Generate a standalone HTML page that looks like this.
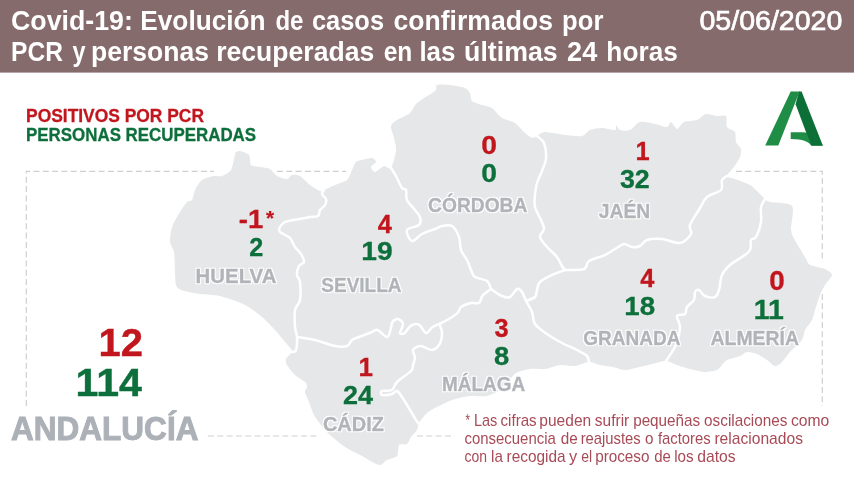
<!DOCTYPE html><html lang="es"><head><meta charset="utf-8"><title>Covid-19 Andalucía</title>
<style>html,body{margin:0;padding:0;background:#fff}body{width:854px;height:480px;overflow:hidden}svg{display:block}text{font-family:"Liberation Sans",sans-serif}</style></head><body>
<svg width="854" height="480" viewBox="0 0 854 480">
<defs><filter id="ol" x="-5%" y="-30%" width="110%" height="160%"><feMorphology in="SourceAlpha" operator="dilate" radius="1.1" result="d"/><feGaussianBlur in="d" stdDeviation="0.35" result="b"/><feFlood flood-color="#fff"/><feComposite in2="b" operator="in" result="o"/><feMerge><feMergeNode in="o"/><feMergeNode in="SourceGraphic"/></feMerge></filter></defs>
<rect width="854" height="480" fill="#fff"/>
<g stroke="#cfcfcf" stroke-width="1.2" stroke-dasharray="6 3.3" fill="none"><path d="M26.3 406V171.4H214"/><path d="M277 171.4H346"/><path d="M736 171.4H822.3V262"/><path d="M822.3 294V406"/><path d="M208 436H319"/><path d="M417 436H452"/></g>
<path d="M176.0 285.0C175.2 282.6 175.3 276.4 175.0 272.0C174.7 267.6 174.7 256.0 174.0 252.0C173.3 248.0 170.3 245.3 170.0 242.0C169.7 238.7 171.1 230.3 172.0 227.0C172.9 223.7 175.9 219.0 177.0 217.0C178.1 215.0 178.7 214.0 180.0 212.0C181.3 210.0 185.4 203.6 187.0 202.0C188.6 200.4 190.9 201.6 192.0 200.0C193.1 198.4 193.7 192.7 195.0 190.0C196.3 187.3 199.5 181.9 202.0 180.0C204.5 178.1 211.3 176.5 214.0 176.0C216.7 175.5 219.7 176.8 222.0 176.0C224.3 175.2 229.3 172.8 231.0 170.0C232.7 167.2 234.3 157.4 235.0 155.0C235.7 152.6 235.3 152.5 236.0 152.0C236.7 151.5 238.3 150.6 240.0 151.0C241.7 151.4 247.5 153.1 249.0 155.0C250.5 156.9 249.5 163.4 251.0 165.0C252.5 166.6 257.5 166.5 260.0 167.0C262.5 167.5 267.7 167.8 270.0 169.0C272.3 170.2 274.7 174.7 277.0 176.0C279.3 177.3 285.0 179.1 287.0 179.0C289.0 178.9 290.3 175.4 292.0 175.0C293.7 174.6 297.6 174.7 300.0 176.0C302.4 177.3 307.3 183.0 310.0 185.0C312.7 187.0 318.1 190.3 320.0 191.0C321.9 191.7 322.0 190.8 324.0 190.0C326.0 189.2 331.9 186.3 335.0 185.0C338.1 183.7 344.7 182.0 347.0 180.0C349.3 178.0 350.8 172.4 352.0 170.0C353.2 167.6 354.7 163.3 356.0 162.0C357.3 160.7 359.9 160.5 362.0 160.0C364.1 159.5 370.1 157.7 372.0 158.0C373.9 158.3 376.1 160.8 376.0 162.0C375.9 163.2 371.1 165.7 371.0 167.0C370.9 168.3 373.3 172.1 375.0 172.0C376.7 171.9 381.9 166.5 384.0 166.0C386.1 165.5 389.4 170.0 391.0 168.0C392.6 166.0 395.6 155.0 396.0 151.0C396.4 147.0 394.7 141.3 394.0 138.0C393.3 134.7 390.6 128.4 391.0 126.0C391.4 123.6 394.5 121.7 397.0 120.0C399.5 118.3 407.3 115.3 410.0 113.0C412.7 110.7 413.7 105.9 417.0 103.0C420.3 100.1 432.3 93.4 435.0 91.0C437.7 88.6 435.0 85.8 437.0 85.0C439.0 84.2 446.3 84.6 450.0 85.0C453.7 85.4 462.3 86.9 465.0 88.0C467.7 89.1 469.1 91.3 470.0 93.0C470.9 94.7 470.4 99.4 472.0 101.0C473.6 102.6 479.3 104.1 482.0 105.0C484.7 105.9 489.3 106.3 492.0 108.0C494.7 109.7 498.9 116.0 502.0 118.0C505.1 120.0 511.9 121.0 515.0 123.0C518.1 125.0 522.7 131.0 525.0 133.0C527.3 135.0 530.4 137.6 532.0 138.0C533.6 138.4 535.3 136.8 537.0 136.0C538.7 135.2 541.3 132.1 545.0 132.0C548.7 131.9 560.1 134.5 565.0 135.0C569.9 135.5 578.7 136.7 582.0 136.0C585.3 135.3 587.3 131.1 590.0 130.0C592.7 128.9 598.7 128.0 602.0 128.0C605.3 128.0 613.1 130.4 615.0 130.0C616.9 129.6 615.3 125.0 616.0 125.0C616.7 125.0 618.1 129.3 620.0 130.0C621.9 130.7 627.3 131.1 630.0 130.0C632.7 128.9 636.7 122.8 640.0 122.0C643.3 121.2 651.4 123.3 655.0 124.0C658.6 124.7 664.9 127.3 667.0 127.0C669.1 126.7 669.7 121.7 671.0 122.0C672.3 122.3 675.3 129.0 677.0 129.0C678.7 129.0 681.3 123.2 684.0 122.0C686.7 120.8 694.1 121.1 697.0 120.0C699.9 118.9 703.3 114.5 706.0 114.0C708.7 113.5 714.3 115.7 717.0 116.0C719.7 116.3 724.7 114.5 726.0 116.0C727.3 117.5 725.8 124.9 727.0 127.0C728.2 129.1 733.8 130.0 735.0 132.0C736.2 134.0 735.2 139.7 736.0 142.0C736.8 144.3 740.5 147.0 741.0 149.0C741.5 151.0 740.9 154.6 740.0 157.0C739.1 159.4 735.7 164.5 734.0 167.0C732.3 169.5 726.9 174.4 727.0 176.0C727.1 177.6 731.9 177.8 735.0 179.0C738.1 180.2 747.1 183.4 750.0 185.0C752.9 186.6 755.0 189.1 757.0 191.0C759.0 192.9 763.3 197.5 765.0 199.0C766.7 200.5 766.4 201.1 770.0 202.0C773.6 202.9 789.2 202.3 792.0 206.0C794.8 209.7 790.5 225.2 791.0 230.0C791.5 234.8 794.1 238.4 796.0 242.0C797.9 245.6 803.1 253.9 805.0 257.0C806.9 260.1 807.3 263.4 810.0 265.0C812.7 266.6 822.1 267.7 825.0 269.0C827.9 270.3 832.0 272.9 832.0 275.0C832.0 277.1 826.6 282.3 825.0 285.0C823.4 287.7 821.3 291.7 820.0 295.0C818.7 298.3 816.1 306.7 815.0 310.0C813.9 313.3 813.3 317.3 812.0 320.0C810.7 322.7 806.3 327.3 805.0 330.0C803.7 332.7 804.0 337.1 802.0 340.0C800.0 342.9 792.7 349.1 790.0 352.0C787.3 354.9 784.0 360.1 782.0 362.0C780.0 363.9 777.0 366.3 775.0 366.0C773.0 365.7 769.4 361.6 767.0 360.0C764.6 358.4 759.7 355.1 757.0 354.0C754.3 352.9 749.3 351.7 747.0 352.0C744.7 352.3 742.7 354.9 740.0 356.0C737.3 357.1 729.4 358.8 727.0 360.0C724.6 361.2 723.3 363.7 722.0 365.0C720.7 366.3 719.3 369.1 717.0 370.0C714.7 370.9 708.6 372.1 705.0 372.0C701.4 371.9 693.7 369.9 690.0 369.0C686.3 368.1 680.2 366.1 677.0 365.0C673.8 363.9 669.3 361.1 666.0 361.0C662.7 360.9 655.5 363.2 652.0 364.0C648.5 364.8 643.6 366.2 640.0 367.0C636.4 367.8 628.6 370.0 625.0 370.0C621.4 370.0 616.3 367.7 613.0 367.0C609.7 366.3 603.2 365.7 600.0 365.0C596.8 364.3 592.3 361.9 589.0 362.0C585.7 362.1 578.9 365.6 575.0 366.0C571.1 366.4 564.0 364.6 560.0 365.0C556.0 365.4 549.0 368.5 545.0 369.0C541.0 369.5 533.7 368.5 530.0 369.0C526.3 369.5 519.7 371.2 517.0 372.5C514.3 373.8 512.3 376.7 510.0 379.0C507.7 381.3 503.1 387.7 500.0 390.0C496.9 392.3 491.0 395.2 487.0 396.0C483.0 396.8 474.7 395.5 470.0 396.0C465.3 396.5 456.4 398.5 452.0 400.0C447.6 401.5 440.3 405.3 437.0 407.0C433.7 408.7 429.4 410.9 427.0 413.0C424.6 415.1 420.3 420.7 419.0 423.0C417.7 425.3 418.1 428.1 417.0 430.0C415.9 431.9 412.3 435.1 411.0 437.0C409.7 438.9 408.6 442.9 407.0 444.0C405.4 445.1 400.3 443.4 399.0 445.0C397.7 446.6 398.6 454.0 397.0 456.0C395.4 458.0 389.4 458.8 387.0 460.0C384.6 461.2 382.3 465.5 379.0 465.0C375.7 464.5 366.5 458.4 362.0 456.0C357.5 453.6 349.3 449.8 345.0 447.0C340.7 444.2 333.2 437.9 330.0 435.0C326.8 432.1 323.1 427.7 321.0 425.0C318.9 422.3 315.6 418.1 314.0 415.0C312.4 411.9 310.2 405.1 309.0 402.0C307.8 398.9 305.3 394.0 305.0 392.0C304.7 390.0 307.0 388.3 307.0 387.0C307.0 385.7 306.6 383.6 305.0 382.0C303.4 380.4 297.4 377.3 295.0 375.0C292.6 372.7 288.2 367.1 287.0 365.0C285.8 362.9 285.3 360.9 286.0 359.0C286.7 357.1 292.1 353.3 292.0 351.0C291.9 348.7 287.3 344.8 285.0 342.0C282.7 339.2 278.1 333.3 275.0 330.0C271.9 326.7 266.0 320.3 262.0 317.0C258.0 313.7 250.6 307.8 245.0 305.0C239.4 302.2 226.0 297.5 220.0 296.0C214.0 294.5 205.2 294.8 200.0 294.0C194.8 293.2 184.2 291.2 181.0 290.0C177.8 288.8 176.8 287.4 176.0 285.0Z" fill="#e6e7e8"/>
<g fill="none" stroke="#fff" stroke-width="2.5" stroke-linejoin="round" stroke-linecap="round">
<path d="M324.0 190.0C323.7 190.7 321.7 192.5 322.0 194.0C322.3 195.5 325.5 197.2 326.0 199.0C326.5 200.8 326.0 203.2 325.0 205.0C324.0 206.8 321.2 208.2 320.0 210.0C318.8 211.8 319.7 214.8 318.0 216.0C316.3 217.2 313.0 216.5 310.0 217.0C307.0 217.5 304.2 218.2 300.0 219.0C295.8 219.8 288.5 220.2 285.0 222.0C281.5 223.8 279.0 227.8 279.0 230.0C279.0 232.2 283.2 233.7 285.0 235.0C286.8 236.3 288.3 236.0 290.0 238.0C291.7 240.0 293.2 244.3 295.0 247.0C296.8 249.7 299.5 251.5 301.0 254.0C302.5 256.5 304.3 260.0 304.0 262.0C303.7 264.0 300.2 263.8 299.0 266.0C297.8 268.2 296.8 272.3 297.0 275.0C297.2 277.7 299.5 277.8 300.0 282.0C300.5 286.2 300.8 295.3 300.0 300.0C299.2 304.7 295.8 305.5 295.0 310.0C294.2 314.5 294.7 322.5 295.0 327.0C295.3 331.5 296.8 333.2 297.0 337.0C297.2 340.8 296.8 347.5 296.0 350.0C295.2 352.5 292.7 351.7 292.0 352.0"/>
<path d="M297.0 337.0C300.0 337.5 308.7 338.5 315.0 340.0C321.3 341.5 329.7 345.0 335.0 346.0C340.3 347.0 344.2 347.0 347.0 346.0C349.8 345.0 350.0 341.5 352.0 340.0C354.0 338.5 355.7 338.3 359.0 337.0C362.3 335.7 368.9 333.2 372.0 332.0C375.1 330.8 375.0 329.2 377.5 330.0C380.0 330.8 384.8 337.1 387.0 337.0C389.2 336.9 389.7 331.9 390.6 329.4C391.5 326.9 391.3 323.7 392.5 322.0C393.7 320.3 396.2 318.7 398.0 319.0C399.8 319.3 402.7 321.7 403.0 324.0C403.3 326.3 399.7 331.5 400.0 333.0C400.3 334.5 402.9 334.2 404.7 333.0C406.5 331.8 408.6 327.0 411.0 325.6C413.4 324.2 416.5 323.5 419.0 324.7C421.5 325.9 423.8 332.5 426.0 333.0C428.2 333.5 429.8 329.0 432.0 327.5C434.2 326.0 438.2 324.4 439.4 323.8"/>
<path d="M439.4 324.0C441.3 323.0 447.6 319.9 450.7 318.0C453.8 316.1 456.3 314.3 458.0 312.5C459.7 310.7 458.8 308.6 461.0 307.0C463.2 305.4 468.0 303.7 471.0 303.0C474.0 302.3 477.1 304.2 479.0 303.0C480.9 301.8 480.6 297.9 482.6 295.6C484.6 293.3 489.6 290.1 491.0 289.0"/>
<path d="M439.4 324.0C439.8 325.5 442.0 329.6 442.0 333.0C442.0 336.4 441.1 341.6 439.4 344.4C437.7 347.2 435.1 349.7 432.0 350.0C428.9 350.3 423.9 346.0 420.7 346.0C417.5 346.0 413.9 348.1 413.0 350.0C412.1 351.9 415.0 355.0 415.0 357.5C415.0 360.0 413.7 362.8 413.0 365.0C412.3 367.2 413.7 368.2 411.0 371.0C408.3 373.8 400.2 378.8 397.0 382.0C393.8 385.2 394.5 388.5 392.0 390.0C389.5 391.5 383.7 390.2 382.0 391.0C380.3 391.8 380.3 394.5 382.0 395.0C383.7 395.5 389.5 394.7 392.0 394.0C394.5 393.3 395.3 390.5 397.0 391.0C398.7 391.5 399.8 393.8 402.0 397.0C404.2 400.2 407.7 406.2 410.0 410.0C412.3 413.8 414.5 417.7 416.0 420.0C417.5 422.3 418.5 423.3 419.0 424.0"/>
<path d="M391.0 168.0C391.8 169.3 394.2 172.7 396.0 176.0C397.8 179.3 400.3 185.7 402.0 188.0C403.7 190.3 405.2 188.0 406.0 190.0C406.8 192.0 405.5 196.7 407.0 200.0C408.5 203.3 412.8 207.2 415.0 210.0C417.2 212.8 419.3 214.5 420.0 217.0C420.7 219.5 421.2 222.8 419.0 225.0C416.8 227.2 408.2 227.3 407.0 230.0C405.8 232.7 409.5 240.3 412.0 241.0C414.5 241.7 418.2 236.0 422.0 234.0C425.8 232.0 431.7 230.3 435.0 229.0C438.3 227.7 439.2 226.5 442.0 226.0C444.8 225.5 449.2 224.2 452.0 226.0C454.8 227.8 457.5 233.0 459.0 237.0C460.5 241.0 459.7 246.2 461.0 250.0C462.3 253.8 465.3 256.7 467.0 260.0C468.7 263.3 469.7 267.2 471.0 270.0C472.3 272.8 472.3 275.2 475.0 277.0C477.7 278.8 484.3 279.0 487.0 281.0C489.7 283.0 490.3 287.7 491.0 289.0"/>
<path d="M491.0 289.0C492.8 290.2 498.8 294.7 502.0 296.0C505.2 297.3 507.5 298.2 510.0 297.0C512.5 295.8 515.0 289.8 517.0 289.0C519.0 288.2 520.5 290.0 522.0 292.0C523.5 294.0 525.3 299.5 526.0 301.0"/>
<path d="M526.0 301.0C527.5 300.3 533.2 298.8 535.0 297.0C536.8 295.2 536.2 292.5 537.0 290.0C537.8 287.5 537.5 284.5 540.0 282.0C542.5 279.5 547.8 277.0 552.0 275.0C556.2 273.0 562.8 270.8 565.0 270.0"/>
<path d="M526.0 301.0C527.0 302.8 530.5 308.2 532.0 312.0C533.5 315.8 532.5 320.3 535.0 324.0C537.5 327.7 542.8 331.0 547.0 334.0C551.2 337.0 555.0 339.3 560.0 342.0C565.0 344.7 572.5 347.7 577.0 350.0C581.5 352.3 585.0 354.0 587.0 356.0C589.0 358.0 588.7 361.0 589.0 362.0"/>
<path d="M537.0 136.0C538.2 137.2 542.5 139.3 544.0 143.0C545.5 146.7 546.3 153.3 546.0 158.0C545.7 162.7 543.5 166.8 542.0 171.0C540.5 175.2 538.2 179.0 537.0 183.0C535.8 187.0 535.3 191.0 535.0 195.0C534.7 199.0 534.0 202.8 535.0 207.0C536.0 211.2 539.5 216.3 541.0 220.0C542.5 223.7 544.2 226.2 544.0 229.0C543.8 231.8 539.5 234.0 540.0 237.0C540.5 240.0 544.2 243.7 547.0 247.0C549.8 250.3 554.5 253.8 557.0 257.0C559.5 260.2 560.7 263.8 562.0 266.0C563.3 268.2 564.5 269.3 565.0 270.0"/>
<path d="M565.0 270.0C568.2 269.8 580.0 270.5 584.0 269.0C588.0 267.5 585.5 263.3 589.0 261.0C592.5 258.7 600.7 257.0 605.0 255.0C609.3 253.0 611.8 250.8 615.0 249.0C618.2 247.2 621.2 244.3 624.0 244.0C626.8 243.7 629.3 246.7 632.0 247.0C634.7 247.3 637.5 247.2 640.0 246.0C642.5 244.8 643.3 241.2 647.0 240.0C650.7 238.8 656.5 238.5 662.0 239.0C667.5 239.5 675.2 243.8 680.0 243.0C684.8 242.2 689.3 237.0 691.0 234.0C692.7 231.0 688.5 229.3 690.0 225.0C691.5 220.7 697.2 212.7 700.0 208.0C702.8 203.3 703.5 200.0 707.0 197.0C710.5 194.0 718.5 192.8 721.0 190.0C723.5 187.2 721.0 182.3 722.0 180.0C723.0 177.7 726.2 176.7 727.0 176.0"/>
<path d="M765.0 199.0C764.3 200.3 761.7 203.2 761.0 207.0C760.3 210.8 761.8 217.0 761.0 222.0C760.2 227.0 757.7 234.0 756.0 237.0C754.3 240.0 752.0 237.8 751.0 240.0C750.0 242.2 751.5 247.2 750.0 250.0C748.5 252.8 745.3 254.5 742.0 257.0C738.7 259.5 733.3 262.0 730.0 265.0C726.7 268.0 723.8 270.8 722.0 275.0C720.2 279.2 720.2 286.3 719.0 290.0C717.8 293.7 717.3 296.0 715.0 297.0C712.7 298.0 707.7 297.2 705.0 296.0C702.3 294.8 700.7 290.7 699.0 290.0C697.3 289.3 695.8 290.3 695.0 292.0C694.2 293.7 695.3 297.5 694.0 300.0C692.7 302.5 688.5 304.7 687.0 307.0C685.5 309.3 686.7 312.5 685.0 314.0C683.3 315.5 677.8 313.8 677.0 316.0C676.2 318.2 680.0 322.7 680.0 327.0C680.0 331.3 678.3 337.8 677.0 342.0C675.7 346.2 673.8 348.8 672.0 352.0C670.2 355.2 667.0 359.5 666.0 361.0"/>
</g>
<rect x="0" y="0" width="854" height="72.6" fill="#866b6c"/>
<text y="29.6" font-size="27.8" font-weight="bold" fill="#fff"><tspan x="10.96" textLength="121.96" lengthAdjust="spacingAndGlyphs">Covid-19:</tspan> <tspan x="140.26" textLength="125.41" lengthAdjust="spacingAndGlyphs">Evolución</tspan> <tspan x="275.45" textLength="28.05" lengthAdjust="spacingAndGlyphs">de</tspan> <tspan x="311.91" textLength="72.13" lengthAdjust="spacingAndGlyphs">casos</tspan> <tspan x="393.47" textLength="159.51" lengthAdjust="spacingAndGlyphs">confirmados</tspan> <tspan x="562.10" textLength="41.26" lengthAdjust="spacingAndGlyphs">por</tspan></text>
<text y="61" font-size="27.8" font-weight="bold" fill="#fff"><tspan x="11.07" textLength="51.80" lengthAdjust="spacingAndGlyphs">PCR</tspan> <tspan x="72.50" textLength="13.05" lengthAdjust="spacingAndGlyphs">y</tspan> <tspan x="91.04" textLength="118.04" lengthAdjust="spacingAndGlyphs">personas</tspan> <tspan x="216.14" textLength="158.14" lengthAdjust="spacingAndGlyphs">recuperadas</tspan> <tspan x="383.63" textLength="28.65" lengthAdjust="spacingAndGlyphs">en</tspan> <tspan x="419.38" textLength="36.07" lengthAdjust="spacingAndGlyphs">las</tspan> <tspan x="464.05" textLength="93.64" lengthAdjust="spacingAndGlyphs">últimas</tspan> <tspan x="567.05" textLength="30.18" lengthAdjust="spacingAndGlyphs">24</tspan> <tspan x="606.36" textLength="71.51" lengthAdjust="spacingAndGlyphs">horas</tspan></text>
<text y="29.7" font-size="27.6" font-weight="normal" fill="#fff" stroke="#fff" stroke-width="0.7"><tspan x="699.46" textLength="142.90" lengthAdjust="spacingAndGlyphs">05/06/2020</tspan></text>
<text y="121.7" font-size="19" font-weight="bold" fill="#c1161d" stroke="#c1161d" stroke-width="0.3"><tspan x="26.06" textLength="177.92" lengthAdjust="spacingAndGlyphs">POSITIVOS POR PCR</tspan></text>
<text y="141" font-size="19" font-weight="bold" fill="#0d6f3b" stroke="#0d6f3b" stroke-width="0.3"><tspan x="26.09" textLength="230.00" lengthAdjust="spacingAndGlyphs">PERSONAS RECUPERADAS</tspan></text>
<g><clipPath id="lc"><polygon points="795.8,103.9 813.3,150.5 830,150.5 830,88 798,88"/></clipPath><polygon points="799,91.5 801.6,91.5 822.8,145.4 811.1,145.4 795.6,104.2" fill="#0b6f37"/><polygon points="790.7,91.5 799.6,91.5 778.3,145.4 765.2,145.4" fill="#1f8d46"/><path d="M790.7 132.3H802.5C811.5 132.6 817.5 138 822.8 145.4H811.3C808 141.3 803 139.2 790.7 138.9Z" fill="#1f8d46"/><path d="M790.7 132.3H802.5C811.5 132.6 817.5 138 822.8 145.4H811.3C808 141.3 803 139.2 790.7 138.9Z" fill="#0b6f37" clip-path="url(#lc)"/></g>
<text y="228.3" font-size="26.7" font-weight="bold" fill="#c1161d" stroke="#c1161d" stroke-width="0.3"><tspan x="238.79" textLength="24.44" lengthAdjust="spacingAndGlyphs">-1</tspan></text>
<text y="225" font-size="20" font-weight="bold" fill="#c1161d" stroke="#c1161d" stroke-width="0.2"><tspan x="266.10" textLength="8.07" lengthAdjust="spacingAndGlyphs">*</tspan></text>
<text y="256" font-size="26.7" font-weight="bold" fill="#0d6f3b" stroke="#0d6f3b" stroke-width="0.3"><tspan x="249.16" textLength="14.02" lengthAdjust="spacingAndGlyphs">2</tspan></text>
<text y="282.5" font-size="20" font-weight="bold" fill="#b0b3b8" stroke="#b0b3b8" stroke-width="0.4" filter="url(#ol)"><tspan x="195.63" textLength="80.76" lengthAdjust="spacingAndGlyphs">HUELVA</tspan></text>
<text y="232.5" font-size="26.7" font-weight="bold" fill="#c1161d" stroke="#c1161d" stroke-width="0.3"><tspan x="377.65" textLength="14.14" lengthAdjust="spacingAndGlyphs">4</tspan></text>
<text y="260.3" font-size="26.7" font-weight="bold" fill="#0d6f3b" stroke="#0d6f3b" stroke-width="0.3"><tspan x="361.29" textLength="31.36" lengthAdjust="spacingAndGlyphs">19</tspan></text>
<text y="291.9" font-size="20" font-weight="bold" fill="#b0b3b8" stroke="#b0b3b8" stroke-width="0.4" filter="url(#ol)"><tspan x="321.30" textLength="80.26" lengthAdjust="spacingAndGlyphs">SEVILLA</tspan></text>
<text y="153.5" font-size="26.7" font-weight="bold" fill="#c1161d" stroke="#c1161d" stroke-width="0.3"><tspan x="481.27" textLength="15.73" lengthAdjust="spacingAndGlyphs">0</tspan></text>
<text y="182" font-size="26.7" font-weight="bold" fill="#0d6f3b" stroke="#0d6f3b" stroke-width="0.3"><tspan x="481.27" textLength="15.73" lengthAdjust="spacingAndGlyphs">0</tspan></text>
<text y="211.70000000000002" font-size="20" font-weight="bold" fill="#b0b3b8" stroke="#b0b3b8" stroke-width="0.4" filter="url(#ol)"><tspan x="428.10" textLength="99.27" lengthAdjust="spacingAndGlyphs">CÓRDOBA</tspan></text>
<text y="159.5" font-size="26.7" font-weight="bold" fill="#c1161d" stroke="#c1161d" stroke-width="0.3"><tspan x="635.56" textLength="14.12" lengthAdjust="spacingAndGlyphs">1</tspan></text>
<text y="188" font-size="26.7" font-weight="bold" fill="#0d6f3b" stroke="#0d6f3b" stroke-width="0.3"><tspan x="619.93" textLength="29.79" lengthAdjust="spacingAndGlyphs">32</tspan></text>
<text y="218.4" font-size="20" font-weight="bold" fill="#b0b3b8" stroke="#b0b3b8" stroke-width="0.4" filter="url(#ol)"><tspan x="598.80" textLength="51.47" lengthAdjust="spacingAndGlyphs">JAÉN</tspan></text>
<text y="287.1" font-size="26.7" font-weight="bold" fill="#c1161d" stroke="#c1161d" stroke-width="0.3"><tspan x="640.15" textLength="14.14" lengthAdjust="spacingAndGlyphs">4</tspan></text>
<text y="315" font-size="26.7" font-weight="bold" fill="#0d6f3b" stroke="#0d6f3b" stroke-width="0.3"><tspan x="624.32" textLength="30.82" lengthAdjust="spacingAndGlyphs">18</tspan></text>
<text y="344.79999999999995" font-size="20" font-weight="bold" fill="#b0b3b8" stroke="#b0b3b8" stroke-width="0.4" filter="url(#ol)"><tspan x="583.31" textLength="97.06" lengthAdjust="spacingAndGlyphs">GRANADA</tspan></text>
<text y="290.1" font-size="27.4" font-weight="bold" fill="#c1161d" stroke="#c1161d" stroke-width="0.3"><tspan x="769.28" textLength="15.50" lengthAdjust="spacingAndGlyphs">0</tspan></text>
<text y="318.8" font-size="27.4" font-weight="bold" fill="#0d6f3b" stroke="#0d6f3b" stroke-width="0.3"><tspan x="753.87" textLength="30.09" lengthAdjust="spacingAndGlyphs">11</tspan></text>
<text y="344.79999999999995" font-size="20" font-weight="bold" fill="#b0b3b8" stroke="#b0b3b8" stroke-width="0.4" filter="url(#ol)"><tspan x="710.50" textLength="88.57" lengthAdjust="spacingAndGlyphs">ALMERÍA</tspan></text>
<text y="336.7" font-size="26.7" font-weight="bold" fill="#c1161d" stroke="#c1161d" stroke-width="0.3"><tspan x="494.55" textLength="14.13" lengthAdjust="spacingAndGlyphs">3</tspan></text>
<text y="365" font-size="26.7" font-weight="bold" fill="#0d6f3b" stroke="#0d6f3b" stroke-width="0.3"><tspan x="494.09" textLength="15.24" lengthAdjust="spacingAndGlyphs">8</tspan></text>
<text y="391.0" font-size="20" font-weight="bold" fill="#b0b3b8" stroke="#b0b3b8" stroke-width="0.4" filter="url(#ol)"><tspan x="442.12" textLength="83.04" lengthAdjust="spacingAndGlyphs">MÁLAGA</tspan></text>
<text y="376.2" font-size="26.7" font-weight="bold" fill="#c1161d" stroke="#c1161d" stroke-width="0.3"><tspan x="358.52" textLength="14.47" lengthAdjust="spacingAndGlyphs">1</tspan></text>
<text y="404.2" font-size="26.7" font-weight="bold" fill="#0d6f3b" stroke="#0d6f3b" stroke-width="0.3"><tspan x="343.06" textLength="30.02" lengthAdjust="spacingAndGlyphs">24</tspan></text>
<text y="431.0" font-size="20" font-weight="bold" fill="#b0b3b8" stroke="#b0b3b8" stroke-width="0.4" filter="url(#ol)"><tspan x="322.98" textLength="60.91" lengthAdjust="spacingAndGlyphs">CÁDIZ</tspan></text>
<text y="356.2" font-size="38.6" font-weight="bold" fill="#c1161d" stroke="#c1161d" stroke-width="0.4"><tspan x="98.50" textLength="44.50" lengthAdjust="spacingAndGlyphs">12</tspan></text>
<text y="396.3" font-size="38.6" font-weight="bold" fill="#0d6f3b" stroke="#0d6f3b" stroke-width="0.4"><tspan x="75.63" textLength="66.31" lengthAdjust="spacingAndGlyphs">114</tspan></text>
<text y="439.8" font-size="33.4" font-weight="bold" fill="#acb1b8" stroke="#acb1b8" stroke-width="1.0" stroke-linejoin="miter"><tspan x="11.11" textLength="187.29" lengthAdjust="spacingAndGlyphs">ANDALUCÍA</tspan></text>
<text y="426" font-size="16.4" font-weight="normal" fill="#a84a56"><tspan x="465.52" textLength="4.44" lengthAdjust="spacingAndGlyphs">*</tspan> <tspan x="473.97" textLength="23.39" lengthAdjust="spacingAndGlyphs">Las</tspan> <tspan x="500.53" textLength="36.15" lengthAdjust="spacingAndGlyphs">cifras</tspan> <tspan x="539.33" textLength="51.84" lengthAdjust="spacingAndGlyphs">pueden</tspan> <tspan x="594.86" textLength="34.42" lengthAdjust="spacingAndGlyphs">sufrir</tspan> <tspan x="633.15" textLength="67.03" lengthAdjust="spacingAndGlyphs">pequeñas</tspan> <tspan x="704.12" textLength="83.26" lengthAdjust="spacingAndGlyphs">oscilaciones</tspan> <tspan x="791.01" textLength="38.32" lengthAdjust="spacingAndGlyphs">como</tspan></text>
<text y="444.1" font-size="16.4" font-weight="normal" fill="#a84a56"><tspan x="464.43" textLength="91.37" lengthAdjust="spacingAndGlyphs">consecuencia</tspan> <tspan x="560.82" textLength="17.00" lengthAdjust="spacingAndGlyphs">de</tspan> <tspan x="580.67" textLength="60.09" lengthAdjust="spacingAndGlyphs">reajustes</tspan> <tspan x="645.12" textLength="8.50" lengthAdjust="spacingAndGlyphs">o</tspan> <tspan x="657.90" textLength="52.86" lengthAdjust="spacingAndGlyphs">factores</tspan> <tspan x="714.42" textLength="88.56" lengthAdjust="spacingAndGlyphs">relacionados</tspan></text>
<text y="462.1" font-size="16.4" font-weight="normal" fill="#a84a56"><tspan x="464.46" textLength="22.52" lengthAdjust="spacingAndGlyphs">con</tspan> <tspan x="491.05" textLength="11.86" lengthAdjust="spacingAndGlyphs">la</tspan> <tspan x="506.54" textLength="59.06" lengthAdjust="spacingAndGlyphs">recogida</tspan> <tspan x="569.00" textLength="8.20" lengthAdjust="spacingAndGlyphs">y</tspan> <tspan x="581.16" textLength="10.86" lengthAdjust="spacingAndGlyphs">el</tspan> <tspan x="595.14" textLength="54.37" lengthAdjust="spacingAndGlyphs">proceso</tspan> <tspan x="654.13" textLength="16.68" lengthAdjust="spacingAndGlyphs">de</tspan> <tspan x="674.15" textLength="19.42" lengthAdjust="spacingAndGlyphs">los</tspan> <tspan x="697.31" textLength="38.38" lengthAdjust="spacingAndGlyphs">datos</tspan></text>
</svg></body></html>
